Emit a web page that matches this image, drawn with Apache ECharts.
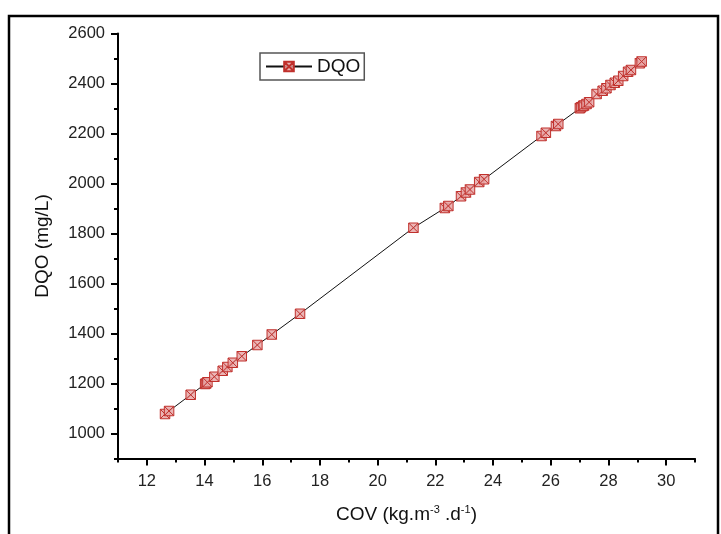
<!DOCTYPE html>
<html>
<head>
<meta charset="utf-8">
<script src="https://cdn.jsdelivr.net/npm/echarts@6/dist/echarts.min.js"></script>
<style>
html,body{margin:0;padding:0;background:#fff;}
#c{width:721px;height:534px;}
</style>
</head>
<body>
<div id="c"></div>
<script>
// Data
const cov = [12.63, 12.77, 13.52, 14.02, 14.05, 14.1, 14.34, 14.63, 14.79, 14.98, 15.29, 15.83, 16.33, 17.31,
  21.24, 22.33, 22.45, 22.89, 23.06, 23.2, 23.52, 23.69, 25.68, 25.83, 26.18, 26.26,
  27.01, 27.05, 27.12, 27.15, 27.24, 27.33, 27.59, 27.8, 27.93, 28.07, 28.22, 28.34, 28.51, 28.68, 28.78, 29.09, 29.15];
const dqo = [1078, 1090, 1155, 1198, 1200, 1205, 1227, 1251, 1266, 1283, 1309, 1354, 1396, 1479,
  1823, 1902, 1910, 1949, 1964, 1976, 2006, 2017, 2190, 2203, 2230, 2238,
  2301, 2305, 2310, 2312, 2318, 2325, 2358, 2371, 2381, 2394, 2403, 2411, 2430, 2447, 2454, 2481, 2488];
const seriesName = 'DQO';
const xMajorTicks = [12, 14, 16, 18, 20, 22, 24, 26, 28, 30];
const xMinorTicks = [11, 13, 15, 17, 19, 21, 23, 25, 27, 29, 31];
const yMajorTicks = [1000, 1200, 1400, 1600, 1800, 2000, 2200, 2400, 2600];
const yMinorTicks = [900, 1100, 1300, 1500, 1700, 1900, 2100, 2300, 2500];

const font = "'Liberation Sans', Arial, sans-serif";
const points = cov.map((x, i) => [x, dqo[i]]);
const sym = 'path://M0,0H10V10H0Z M0,0L10,10 M10,0L0,10';

const chart = echarts.init(document.getElementById('c'));
const axisLine = {show: true, lineStyle: {color: '#000', width: 2}};
const plain = v => String(v);
chart.setOption({
  backgroundColor: '#fff',
  animation: false,
  graphic: [{
    type: 'rect', shape: {x: 9, y: 16, width: 709, height: 540},
    style: {fill: 'none', stroke: '#000', lineWidth: 2.5}, silent: true, z: 0
  }],
  grid: {left: 118, right: 26, top: 33.5, bottom: 75.5},
  legend: {
    left: 260, top: 53,
    padding: [4, 4, 4, 5],
    borderColor: '#555', borderWidth: 1.5,
    itemWidth: 46, itemHeight: 12,
    textStyle: {fontSize: 19, color: '#111', fontFamily: font},
    data: [seriesName]
  },
  xAxis: [{
    type: 'value', min: 11, max: 31,
    name: 'COV (kg.m{s|-3} .d{s|-1})',
    nameLocation: 'middle', nameGap: 46,
    nameTextStyle: {fontSize: 19, color: '#111', fontFamily: font,
      rich: {s: {fontSize: 11, color: '#111', fontFamily: font, verticalAlign: 'top', padding: [0, 0, 10, 0]}}},
    axisLine: axisLine,
    axisTick: {show: true, inside: false, length: 7, lineStyle: {color: '#000', width: 2}, customValues: xMajorTicks},
    axisLabel: {show: true, margin: 14, fontSize: 16.5, color: '#222', fontFamily: font, customValues: xMajorTicks, formatter: plain},
    splitLine: {show: false}
  }, {
    type: 'value', min: 11, max: 31, position: 'bottom',
    axisLine: {show: false},
    axisTick: {show: true, inside: false, length: 4, lineStyle: {color: '#000', width: 2}, customValues: xMinorTicks},
    axisLabel: {show: false},
    splitLine: {show: false}
  }],
  yAxis: [{
    type: 'value', min: 900, max: 2600,
    name: 'DQO (mg/L)',
    nameLocation: 'middle', nameGap: 66,
    nameTextStyle: {fontSize: 19, color: '#111', fontFamily: font},
    axisLine: axisLine,
    axisTick: {show: true, inside: false, length: 7, lineStyle: {color: '#000', width: 2}, customValues: yMajorTicks},
    axisLabel: {show: true, margin: 13, fontSize: 16.5, color: '#222', fontFamily: font, customValues: yMajorTicks, formatter: plain},
    splitLine: {show: false}
  }, {
    type: 'value', min: 900, max: 2600, position: 'left',
    axisLine: {show: false},
    axisTick: {show: true, inside: false, length: 4, lineStyle: {color: '#000', width: 2}, customValues: yMinorTicks},
    axisLabel: {show: false},
    splitLine: {show: false}
  }],
  series: [{
    name: seriesName,
    type: 'line',
    xAxisIndex: 0, yAxisIndex: 0,
    data: points,
    symbol: sym,
    symbolSize: 9.5,
    showAllSymbol: true,
    lineStyle: {color: '#111', width: 1},
    itemStyle: {color: 'rgba(232,168,168,0.85)', borderColor: '#c0302c', borderWidth: 1}
  }]
});
</script>
</body>
</html>
